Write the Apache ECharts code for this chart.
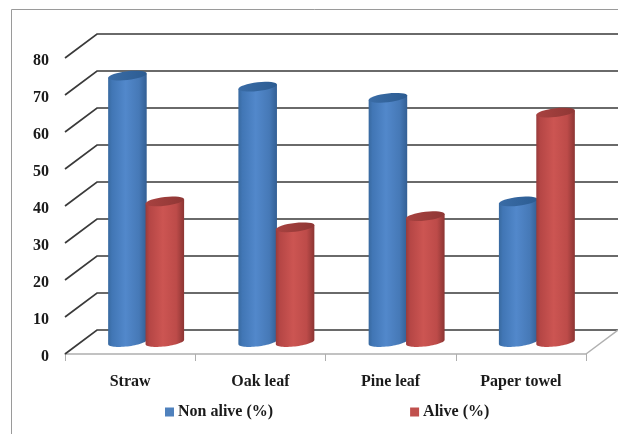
<!DOCTYPE html>
<html>
<head>
<meta charset="utf-8">
<style>html,body{margin:0;padding:0;background:#fff}#chart{width:618px;height:434px}</style>
<script src="https://cdn.jsdelivr.net/npm/echarts@6/dist/echarts.min.js"></script>
</head>
<body>
<div id="chart"></div>
<script>
// Survival by bedding material, drawn as cylinders on a box-style floor and wall.
const categories = ['Straw', 'Oak leaf', 'Pine leaf', 'Paper towel'];
const nonAlive = [72, 69, 66, 38];
const alive = [38, 31, 34, 62];
const wallTicks = [0, 10, 20, 30, 40, 50, 60, 70, 80];

// Pixel offset from the front plane to the back wall.
const DEPTH_X = 32;
const DEPTH_Y = 24;
const FONT = '"Liberation Serif", "DejaVu Serif", serif';

function ellipsePoint(cx, cy, rx, ry, tilt, t) {
  return [cx + rx * Math.cos(t), cy + ry * Math.sin(t) - tilt * Math.cos(t)];
}

function cylinder(palette, sign) {
  return function (params, api) {
    const idx = api.value(0);
    const val = api.value(1);
    const band = api.size([1, 0])[0];
    const rx = band * 0.148;
    const cx = api.coord([idx, 0])[0] + DEPTH_X / 2 + sign * rx * 0.97;
    const baseY = api.coord([idx, 0])[1] - DEPTH_Y / 2;
    const topY = api.coord([idx, val])[1] - DEPTH_Y / 2;
    const ry = 4.4, tilt = 2.2;
    const body = [];
    const lid = [];
    for (let i = 0; i <= 32; i++) {
      // Lower half of the base, running from the left side to the right side.
      body.push(ellipsePoint(cx, baseY, rx, ry, tilt, Math.PI - (i / 32) * Math.PI));
      lid.push(ellipsePoint(cx, topY, rx, ry, tilt, (i / 16) * Math.PI));
    }
    body.push(ellipsePoint(cx, topY, rx, ry, tilt, 0));
    body.push(ellipsePoint(cx, topY, rx, ry, tilt, Math.PI));
    const shade = {
      type: 'linear', global: true, x: cx - rx, y: 0, x2: cx + rx, y2: 0,
      colorStops: palette.body
    };
    return {
      type: 'group',
      children: [
        { type: 'polygon', shape: { points: body }, style: { fill: shade } },
        { type: 'polygon', shape: { points: lid },
          style: { fill: { type: 'linear', global: true, x: cx - rx, y: 0, x2: cx + rx, y2: 0, colorStops: palette.lid } } }
      ]
    };
  };
}

const bluePalette = {
  body: [
    { offset: 0, color: '#38699f' }, { offset: 0.1, color: '#4176b5' },
    { offset: 0.45, color: '#5288cb' }, { offset: 0.8, color: '#4679b7' },
    { offset: 1, color: '#335f94' }
  ],
  lid: [{ offset: 0, color: '#3a6ca6' }, { offset: 1, color: '#2c5c92' }]
};
const redPalette = {
  body: [
    { offset: 0, color: '#973b3b' }, { offset: 0.1, color: '#b54645' },
    { offset: 0.45, color: '#cc5552' }, { offset: 0.8, color: '#bd4b49' },
    { offset: 1, color: '#8c3533' }
  ],
  lid: [{ offset: 0, color: '#a84240' }, { offset: 1, color: '#8f3735' }]
};

function wallLine(params, api) {
  const val = api.value(0);
  const size = api.size([1, 0])[0];
  const mid = api.coord([0, val]);
  const left = [mid[0] - size / 2, mid[1]];
  const right = [left[0] + size * categories.length, left[1]];
  const backLeft = [left[0] + DEPTH_X, left[1] - DEPTH_Y];
  const backRight = [right[0] + DEPTH_X, right[1] - DEPTH_Y];
  const children = [{
    type: 'polyline',
    shape: { points: [left, backLeft, backRight] },
    style: { fill: 'none', stroke: '#3a3a3a', lineWidth: 1.7 }
  }];
  if (val === 0) {
    // Right edge of the floor.
    children.push({
      type: 'line',
      shape: { x1: right[0], y1: right[1], x2: backRight[0], y2: backRight[1] },
      style: { stroke: '#b0b0b0', lineWidth: 1.5 }
    });
  }
  return { type: 'group', children };
}

const chart = echarts.init(document.getElementById('chart'), null, { renderer: 'canvas' });
chart.setOption({
  animation: false,
  backgroundColor: '#ffffff',
  graphic: [
    { type: 'polyline', silent: true, shape: { points: [[11.5, 434], [11.5, 9.5], [618, 9.5]] },
      style: { fill: 'none', stroke: '#9a9a9a', lineWidth: 1 } }
  ],
  grid: { left: 65, top: 58, width: 521, height: 296, containLabel: false },
  legend: {
    data: ['Non alive (%)', 'Alive (%)'],
    left: 160, top: 399,
    itemWidth: 9, itemHeight: 9, itemGap: 137,
    icon: 'rect',
    textStyle: { fontFamily: FONT, fontSize: 16, fontWeight: 'bold', color: '#1a1a1a', padding: [0, 0, 0, -1] },
    selectedMode: false
  },
  xAxis: {
    type: 'category',
    data: categories,
    axisLine: { lineStyle: { color: '#aeaeae', width: 1.5 } },
    axisTick: { show: true, length: 7, lineStyle: { color: '#aeaeae', width: 1 } },
    axisLabel: { fontFamily: FONT, fontSize: 16, fontWeight: 'bold', color: '#1a1a1a', margin: 20 }
  },
  yAxis: {
    type: 'value',
    min: 0, max: 80, interval: 10,
    axisLine: { show: false },
    axisTick: { show: false },
    splitLine: { show: false },
    axisLabel: { fontFamily: FONT, fontSize: 16, fontWeight: 'bold', color: '#1a1a1a', margin: 16, verticalAlign: 'top', padding: [-5, 0, 0, 0] }
  },
  series: [
    { type: 'custom', name: 'wall', silent: true, renderItem: wallLine,
      data: wallTicks.map(v => [v]), encode: { y: 0 }, clip: false, z: 1 },
    { type: 'custom', name: 'Non alive (%)', renderItem: cylinder(bluePalette, -1),
      data: nonAlive.map((v, i) => [i, v]), encode: { x: 0, y: 1 },
      itemStyle: { color: '#4f81bd' }, clip: false, z: 2 },
    { type: 'custom', name: 'Alive (%)', renderItem: cylinder(redPalette, 1),
      data: alive.map((v, i) => [i, v]), encode: { x: 0, y: 1 },
      itemStyle: { color: '#c0504d' }, clip: false, z: 3 }
  ]
});
</script>
</body>
</html>
